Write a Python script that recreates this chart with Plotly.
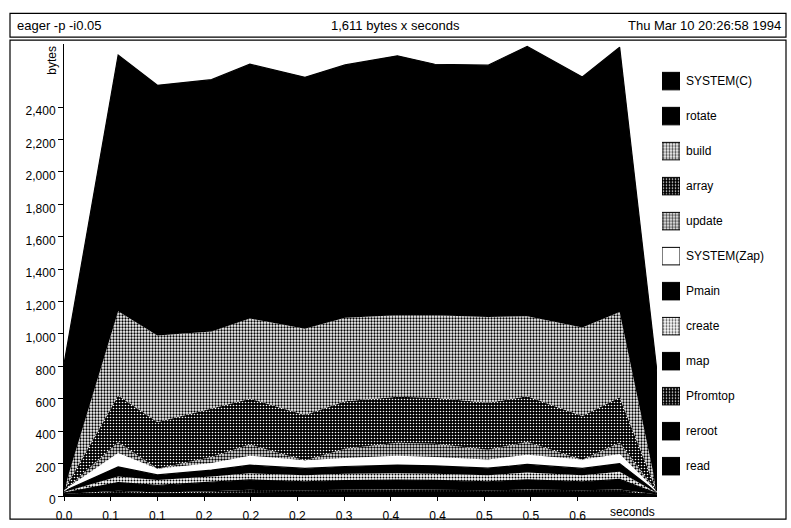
import plotly.graph_objects as go

# ---------------- data ----------------
times = [0.0, 0.058, 0.100, 0.158, 0.199, 0.258, 0.301, 0.357, 0.397, 0.454, 0.496, 0.555, 0.595, 0.635]

# layers, bottom to top (bytes)
read        = [4, 12, 8, 10, 12, 12, 12, 13, 12, 12, 13, 12, 13, 3]
reroot      = [4, 8, 6, 8, 10, 10, 10, 11, 10, 9, 11, 9, 11, 3]
Pfromtop    = [4, 12, 8, 12, 16, 13, 16, 16, 16, 14, 16, 14, 16, 3]
map_        = [6, 51, 43, 55, 61, 53, 57, 58, 58, 53, 60, 53, 62, 5]
create      = [6, 37, 34, 35, 41, 40, 43, 42, 42, 40, 45, 40, 48, 4]
Pmain       = [6, 60, 31, 40, 50, 42, 44, 50, 48, 44, 50, 42, 50, 4]
SYSTEM_Zap  = [2, 81, 34, 40, 55, 47, 49, 55, 51, 49, 56, 51, 55, 2]
update      = [1, 71, 4, 40, 73, 2, 61, 83, 85, 65, 83, 2, 73, 1]
array       = [2, 289, 288, 300, 283, 281, 293, 284, 284, 289, 281, 271, 281, 2]
build       = [5, 519, 534, 475, 494, 533, 515, 503, 509, 530, 495, 546, 526, 5]
rotate      = [0, 792, 765, 770, 780, 766, 771, 807, 765, 764, 865, 761, 840, 0]
SYSTEM_C    = [775, 790, 780, 785, 790, 785, 790, 795, 785, 790, 800, 785, 795, 733]

layer_names = ["read", "reroot", "Pfromtop", "map", "create", "Pmain",
               "SYSTEM(Zap)", "update", "array", "build", "rotate", "SYSTEM(C)"]
layer_values = [read, reroot, Pfromtop, map_, create, Pmain,
                SYSTEM_Zap, update, array, build, rotate, SYSTEM_C]

y_tick_values = [0, 200, 400, 600, 800, 1000, 1200, 1400, 1600, 1800, 2000, 2200, 2400]
x_tick_values = [0.00, 0.05, 0.10, 0.15, 0.20, 0.25, 0.30, 0.35, 0.40, 0.45, 0.50, 0.55]
x_tick_labels = ["0.0", "0.1", "0.1", "0.2", "0.2", "0.2", "0.3", "0.4", "0.4", "0.5", "0.5", "0.6"]

title_left = "eager -p -i0.05"
title_mid = "1,611 bytes x seconds"
title_right = "Thu Mar 10 20:26:58 1994"

# ---------------- styles ----------------
SOLID_BLACK = dict(kind="solid", color="black")
SOLID_WHITE = dict(kind="solid", color="white")
LIGHT = dict(kind="pattern", fg="black", bg="white", size=3, solidity=0.45)
LIGHTER = dict(kind="pattern", fg="black", bg="white", size=3, solidity=0.35)
MEDIUM = dict(kind="pattern", fg="black", bg="white", size=3, solidity=0.5)
DARK = dict(kind="pattern", fg="white", bg="black", size=3, solidity=0.22)

styles = {
    "read": SOLID_BLACK, "reroot": SOLID_BLACK, "Pfromtop": DARK, "map": SOLID_BLACK,
    "create": LIGHTER, "Pmain": SOLID_BLACK, "SYSTEM(Zap)": SOLID_WHITE, "update": MEDIUM,
    "array": DARK, "build": LIGHT, "rotate": SOLID_BLACK, "SYSTEM(C)": SOLID_BLACK,
}

FONT = "Liberation Sans, Arial, Helvetica, sans-serif"
W, H = 791, 528
L, R, T, B = 64, 5, 44, 25
PW, PH = W - L - R, H - T - B


def px(x):
    return (x - L) / PW


def py(y):
    return (H - B - y) / PH


fig = go.Figure()

for name, vals in zip(layer_names, layer_values):
    st = styles[name]
    kw = dict(x=times, y=vals, name=name, stackgroup="heap",
              showlegend=False, hoverinfo="skip")
    if st["kind"] == "solid":
        kw["mode"] = "lines"
        kw["line"] = dict(color=st["color"], width=2.5 if name == "rotate" else 1.2)
        kw["fillcolor"] = st["color"]
    else:
        kw["mode"] = "none"
        kw["fillcolor"] = st["bg"]
        kw["fillpattern"] = dict(shape=".", fgcolor=st["fg"], bgcolor=st["bg"],
                                 size=st["size"], solidity=st["solidity"], fillmode="replace")
    fig.add_trace(go.Scatter(**kw))

# legend swatches as a small categorical bar chart (top entry = top layer)
leg_names = layer_names
shapes_ = []
fg_, sz_, so_, col_ = [], [], [], []
for n in leg_names:
    st = styles[n]
    if st["kind"] == "solid":
        shapes_.append("")
        fg_.append(st["color"]); sz_.append(3); so_.append(0.3)
        col_.append(st["color"])
    else:
        shapes_.append(".")
        fg_.append(st["fg"]); sz_.append(st["size"]); so_.append(st["solidity"])
        col_.append(st["bg"])

fig.add_trace(go.Bar(
    y=leg_names, x=[1] * len(leg_names), orientation="h", xaxis="x2", yaxis="y2",
    width=0.5, showlegend=False, hoverinfo="skip",
    marker=dict(color=col_, line=dict(color="black", width=1),
                pattern=dict(shape=shapes_, fgcolor=fg_, size=sz_,
                             solidity=so_, fillmode="overlay", fgopacity=1)),
))

fig.update_layout(
    width=W, height=H,
    margin=dict(l=L, r=R, t=T, b=B),
    paper_bgcolor="white", plot_bgcolor="white",
    font=dict(family=FONT, size=12, color="black"),
    showlegend=False,
    xaxis=dict(domain=[0, px(657)], range=[0, 0.635], tickvals=x_tick_values,
               ticktext=x_tick_labels, ticks="outside", ticklen=4, tickcolor="black",
               showline=True, linecolor="black", linewidth=1, showgrid=False,
               zeroline=False, tickfont=dict(size=12), ticklabelstandoff=5),
    yaxis=dict(range=[0, 2790], tickvals=y_tick_values, tickformat=",d",
               ticks="outside", ticklen=5, tickcolor="black", showline=True,
               linecolor="black", linewidth=1, showgrid=False, zeroline=False,
               tickfont=dict(size=12), ticklabelshift=4),
    xaxis2=dict(domain=[px(662), px(680)], range=[0, 1], anchor="y2",
                visible=False, fixedrange=True),
    yaxis2=dict(domain=[py(490.5), py(63.9)], anchor="x2", side="right",
                type="category", categoryorder="array", categoryarray=leg_names,
                range=[-0.5, len(leg_names) - 0.5], showline=False, showgrid=False,
                zeroline=False, ticks="", tickfont=dict(size=12), ticklabelstandoff=5),
)

# frames
fig.add_shape(type="rect", xref="paper", yref="paper", x0=px(10), x1=px(786),
              y0=py(37), y1=py(13), line=dict(color="black", width=1.2))
fig.add_shape(type="rect", xref="paper", yref="paper", x0=px(10), x1=px(786),
              y0=py(526.5), y1=py(40), line=dict(color="black", width=1.2))

# header texts
fig.add_annotation(text=title_left, xref="paper", yref="paper", x=px(15), y=py(25),
                   xanchor="left", yanchor="middle", showarrow=False, font=dict(size=13))
fig.add_annotation(text=title_mid, xref="paper", yref="paper", x=px(395), y=py(25),
                   xanchor="center", yanchor="middle", showarrow=False, font=dict(size=13))
fig.add_annotation(text=title_right, xref="paper", yref="paper", x=px(783), y=py(25),
                   xanchor="right", yanchor="middle", showarrow=False, font=dict(size=13))

# axis titles
fig.add_annotation(text="bytes", xref="paper", yref="paper", x=px(52), y=py(61),
                   xanchor="center", yanchor="middle", textangle=-90, showarrow=False,
                   font=dict(size=12))
fig.add_annotation(text="seconds", xref="paper", yref="paper", x=px(657), y=py(519),
                   xanchor="right", yanchor="middle", showarrow=False, font=dict(size=12))

fig.write_html("out.html")
